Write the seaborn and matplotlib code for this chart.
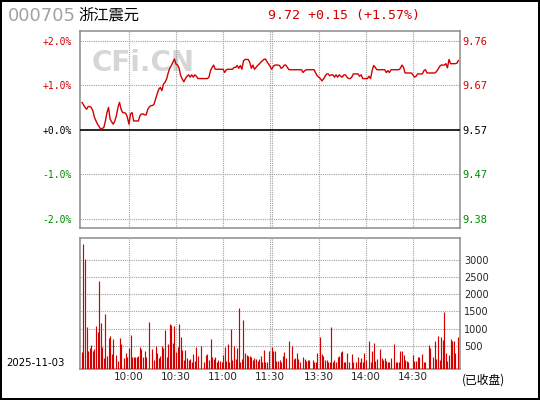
import numpy as np
import pandas as pd
import matplotlib
matplotlib.use('Agg')
import matplotlib.pyplot as plt
import seaborn as sns

# 数据：浙江震元 分时图 2025-11-03
code = '000705'
name = '浙江震元'
date = '2025-11-03'
prev_close = 9.57
last_price = 9.72

# 每分钟价格
price = [
    9.629, 9.624, 9.618, 9.614, 9.620, 9.620, 9.618, 9.611, 9.597, 9.589,
    9.582, 9.577, 9.571, 9.573, 9.575, 9.589, 9.607, 9.618, 9.593, 9.587,
    9.582, 9.589, 9.600, 9.618, 9.629, 9.614, 9.607, 9.607, 9.605, 9.597,
    9.582, 9.604, 9.607, 9.589, 9.589, 9.589, 9.589, 9.600, 9.604, 9.604,
    9.602, 9.602, 9.614, 9.619, 9.622, 9.622, 9.625, 9.636, 9.647, 9.657,
    9.661, 9.654, 9.668, 9.672, 9.679, 9.692, 9.702, 9.708, 9.715, 9.722,
    9.711, 9.709, 9.702, 9.686, 9.679, 9.673, 9.680, 9.685, 9.688, 9.683,
    9.688, 9.683, 9.688, 9.685, 9.680, 9.680, 9.680, 9.680, 9.680, 9.680,
    9.680, 9.683, 9.697, 9.704, 9.709, 9.700, 9.700, 9.700, 9.700, 9.700,
    9.700, 9.693, 9.699, 9.700, 9.700, 9.700, 9.700, 9.704, 9.704, 9.708,
    9.702, 9.708, 9.700, 9.718, 9.721, 9.721, 9.721, 9.715, 9.702, 9.709,
    9.700, 9.704, 9.708, 9.711, 9.715, 9.718, 9.721, 9.722, 9.716, 9.711,
    9.706, 9.700, 9.706, 9.709, 9.709, 9.709, 9.708, 9.702, 9.704, 9.709,
    9.709, 9.704, 9.699, 9.699, 9.699, 9.699, 9.699, 9.699, 9.699, 9.699,
    9.699, 9.693, 9.697, 9.699, 9.699, 9.699, 9.699, 9.699, 9.699, 9.692,
    9.686, 9.683, 9.680, 9.675, 9.679, 9.685, 9.690, 9.690, 9.686, 9.688,
    9.688, 9.683, 9.688, 9.683, 9.688, 9.685, 9.683, 9.688, 9.688, 9.683,
    9.680, 9.680, 9.683, 9.690, 9.690, 9.690, 9.690, 9.685, 9.688, 9.680,
    9.680, 9.680, 9.680, 9.685, 9.680, 9.697, 9.708, 9.704, 9.699, 9.699,
    9.699, 9.699, 9.699, 9.699, 9.693, 9.697, 9.693, 9.699, 9.699, 9.699,
    9.699, 9.699, 9.699, 9.702, 9.709, 9.704, 9.692, 9.692, 9.692, 9.692,
    9.692, 9.688, 9.683, 9.685, 9.690, 9.690, 9.690, 9.690, 9.697, 9.699,
    9.692, 9.692, 9.692, 9.692, 9.692, 9.692, 9.695, 9.700, 9.706, 9.709,
    9.709, 9.709, 9.712, 9.703, 9.721, 9.712, 9.712, 9.712, 9.712, 9.713,
    9.719,
]

# 每分钟成交量
volume = [
    330, 3470, 3030, 1040, 350, 430, 510, 350, 400, 1070,
    890, 2390, 1160, 460, 140, 1420, 200, 720, 780, 250,
    690, 0, 220, 40, 720, 550, 0, 140, 280, 170,
    430, 810, 170, 170, 170, 170, 200, 460, 400, 170,
    340, 170, 0, 1190, 0, 400, 80, 490, 280, 140,
    200, 490, 430, 960, 170, 550, 1130, 1100, 580, 1070,
    310, 460, 1130, 750, 370, 80, 370, 140, 80, 110,
    20, 250, 50, 460, 200, 0, 490, 0, 20, 220,
    250, 80, 690, 170, 110, 170, 20, 80, 50, 10,
    220, 460, 50, 550, 20, 980, 80, 490, 110, 430,
    1600, 20, 110, 1250, 280, 220, 200, 200, 170, 80,
    140, 110, 50, 110, 200, 20, 370, 20, 10, 340,
    0, 460, 340, 340, 50, 50, 80, 20, 200, 310,
    140, 0, 630, 0, 490, 110, 140, 280, 110, 20,
    0, 170, 110, 50, 80, 80, 0, 80, 10, 10,
    280, 0, 750, 250, 200, 80, 80, 10, 10, 1040,
    20, 80, 20, 170, 200, 310, 340, 10, 10, 280,
    20, 0, 250, 10, 0, 10, 170, 20, 140, 10,
    280, 80, 0, 630, 10, 340, 580, 50, 110, 0,
    400, 140, 80, 140, 50, 20, 10, 140, 0, 550,
    20, 10, 10, 340, 340, 220, 80, 50, 10, 0,
    0, 220, 50, 50, 170, 170, 0, 250, 10, 10,
    0, 520, 430, 0, 170, 630, 110, 780, 80, 750,
    660, 1480, 280, 50, 230, 700, 640, 640, 280, 0,
    750,
]

pct_ticks = [2, 1, 0, -1, -2]
pct_labels = ['+2.0%', '+1.0%', '+0.0%', '-1.0%', '-2.0%']
vol_ticks = [500, 1000, 1500, 2000, 2500, 3000]
time_ticks = [30, 60, 90, 120, 151, 181, 211]
time_labels = ['10:00', '10:30', '11:00', '11:30', '13:30', '14:00', '14:30']
grid_minutes = [30, 60, 90, 120, 121, 151, 181, 211]

RED = '#d40000'
GREEN = '#008a00'
GRID = '#a0a0a0'
SPINE = '#8c8c8c'

sns.set_style('white')
plt.rcParams['font.family'] = ['DejaVu Sans', 'Noto Sans CJK SC']

df = pd.DataFrame({'minute': np.arange(len(price)), 'price': price, 'volume': volume})
df['pct'] = (df['price'] / prev_close - 1) * 100

fig = plt.figure(figsize=(5.4, 4), dpi=100)
fig.patch.set_facecolor('white')
fig.patch.set_edgecolor('black')
fig.patch.set_linewidth(1.5)

W, H = 540, 400
left, right = 80.3, 460
ax1 = fig.add_axes([left / W, 1 - 228.3 / H, (right - left) / W, 197 / H])
ax2 = fig.add_axes([left / W, 1 - 369.3 / H, (right - left) / W, 131 / H])

# 价格线
ax1.text(92 / W, 1 - 63 / H, 'CFi.CN', transform=fig.transFigure, fontsize=20,
         fontweight='bold', color='#d6d6d6', va='center', ha='left', zorder=1)
sns.lineplot(data=df, x='minute', y='pct', ax=ax1, color=RED, linewidth=1.0, zorder=4)
ax1.axhline(0, color='black', lw=1.2, zorder=3)
for p in pct_ticks:
    if p != 0:
        ax1.axhline(p, color=GRID, lw=0.8, ls=(0, (1, 1)), zorder=2)
for m in grid_minutes:
    ax1.axvline(m, color=GRID, lw=0.8, ls=(0, (1, 1)), zorder=2)
    ax2.axvline(m, color=GRID, lw=0.8, ls=(0, (1, 1)), zorder=2)

ax1.set_xlim(-1, 241)
ax1.set_ylim(-2.21, 2.21)
ax1.set_xticks([])
ax1.set_xlabel('')
ax1.set_ylabel('')
ax1.set_yticks(pct_ticks)
ax1.set_yticklabels(pct_labels, fontfamily='DejaVu Sans Mono', fontsize=7)
ax1.tick_params(axis='y', length=0, pad=6)

axr = ax1.twinx()
axr.set_ylim(ax1.get_ylim())
axr.set_yticks(pct_ticks)
axr.set_yticklabels([f'{prev_close * (1 + p / 100):.2f}' for p in pct_ticks],
                    fontfamily='DejaVu Sans Mono', fontsize=7.5)
axr.tick_params(axis='y', length=0, pad=2)
for s in axr.spines.values():
    s.set_visible(False)


def sign_color(v):
    return RED if v > 0 else (GREEN if v < 0 else 'black')


for lab, p in zip(ax1.get_yticklabels(), pct_ticks):
    lab.set_color(sign_color(p))
for lab, p in zip(axr.get_yticklabels(), pct_ticks):
    lab.set_color(sign_color(p))

# 成交量
vmin, vmax = -190, 3640
for v in vol_ticks:
    ax2.axhline(v, color=GRID, lw=0.8, ls=(0, (1, 1)), zorder=2)
bars = df[df['volume'] > 0]
ax2.vlines(bars['minute'], vmin, bars['volume'], color=RED, lw=0.85, zorder=3)
ax2.set_xlim(-1, 241)
ax2.set_ylim(vmin, vmax)
ax2.yaxis.tick_right()
ax2.set_yticks(vol_ticks)
ax2.set_yticklabels([str(v) for v in vol_ticks], fontsize=7)
ax2.set_xticks(time_ticks)
ax2.set_xticklabels(time_labels, fontsize=7.5)
ax2.tick_params(length=0, pad=2)
ax2.tick_params(axis='y', pad=3)

for ax in (ax1, ax2):
    for s in ax.spines.values():
        s.set_color(SPINE)
        s.set_linewidth(1.1)
        s.set_visible(True)

# 标题
change = last_price - prev_close
fig.text(8 / W, 1 - 16 / H, code, fontsize=13, color='#a0a2aa', va='center', ha='left')
fig.text(78 / W, 1 - 15 / H, name, fontsize=11, color='black', va='center', ha='left',
         family=['Noto Sans CJK SC', 'DejaVu Sans'])
fig.text(268 / W, 1 - 15 / H,
         f'{last_price:.2f} {change:+.2f} ({change / prev_close * 100:+.2f}%)',
         fontsize=9.5, color=RED, va='center', ha='left', fontfamily='DejaVu Sans Mono')
fig.text(6 / W, 1 - 363 / H, date, fontsize=7.3, color='black', va='center', ha='left')
fig.text(462 / W, 1 - 380 / H, '(已收盘)', fontsize=8.5, color='black', va='center', ha='left',
         family=['Noto Sans CJK SC', 'DejaVu Sans'])

fig.savefig('out.png', dpi=100)
